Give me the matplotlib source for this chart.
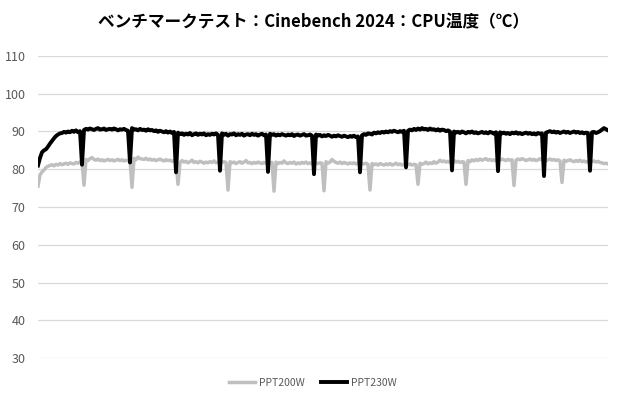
import matplotlib
matplotlib.use("Agg")
import matplotlib.pyplot as plt

plt.rcParams['font.family'] = ['Noto Sans CJK JP', 'DejaVu Sans']

TITLE = "ベンチマークテスト：Cinebench 2024：CPU温度（℃）"
SERIES_NAMES = ["PPT200W", "PPT230W"]
Y_TICKS = [30, 40, 50, 60, 70, 80, 90, 100, 110]

# CPU temperature samples (°C)
ppt200w = [
    75.5, 78.5, 79.3, 79.8, 80.5, 80.8, 81.0, 81.2, 80.9, 81.3, 81.1, 81.5,
    81.2, 81.4, 81.6, 81.3, 81.7, 81.5, 81.4, 81.8, 81.6, 81.9, 82.0,
    75.8,
    82.6, 82.3, 82.8, 83.1, 82.6, 82.4, 82.7, 82.3, 82.5, 82.2, 82.4, 82.6,
    82.3, 82.5, 82.2, 82.4, 82.6, 82.3, 82.5, 82.2, 82.4, 82.3, 82.5,
    75.2,
    82.9, 82.5, 83.2, 82.8, 82.7, 82.6, 82.9, 82.5, 82.7, 82.4, 82.6,
    82.3, 82.5, 82.7, 82.4, 82.2, 82.5, 82.3, 82.4, 82.1, 82.3, 82.2,
    76.0,
    81.8, 82.3, 81.9, 82.1, 81.7, 82.0, 82.4, 81.8, 82.0, 81.7, 82.1, 81.9,
    81.6, 81.9, 81.7, 82.0, 81.8, 82.2, 81.7, 81.9, 81.6, 81.8, 82.0, 81.8,
    74.5,
    82.0, 81.7, 81.9, 81.5, 81.8, 82.0, 81.6, 81.9, 82.3, 81.7, 81.8,
    81.5, 81.8, 81.6, 81.9, 81.7, 81.5, 81.8, 81.6, 81.9, 81.7, 81.8,
    74.2,
    81.9, 81.5, 81.8, 81.6, 82.2, 81.7, 81.5, 81.8, 81.6, 81.9, 81.4, 81.7,
    81.5, 81.8, 81.6, 81.9, 81.5, 81.7, 81.4, 81.8, 81.6, 81.5, 81.7, 81.6,
    74.3,
    82.0, 81.6, 81.9, 82.6, 82.1, 81.8, 81.6, 81.9, 81.5, 81.8, 81.6,
    81.4, 81.7, 81.5, 81.7, 81.4, 81.6, 81.3, 81.5, 81.4, 81.6, 81.3,
    74.5,
    81.5, 81.2, 81.4, 81.1, 81.5, 81.3, 81.1, 81.4, 81.2, 81.5, 81.1, 81.3,
    81.6, 81.2, 81.4, 81.1, 81.3, 81.5, 81.2, 81.4, 81.1, 81.3, 81.2,
    76.0,
    81.6, 81.3, 81.5, 81.9, 81.4, 81.7, 81.5, 82.0, 81.6, 81.9, 82.4, 82.0,
    82.2, 81.9, 82.1, 81.8, 82.0, 82.3, 81.9, 82.1, 81.8, 82.0, 81.9,
    76.0,
    82.3, 82.0, 82.5, 82.2, 82.6, 82.3, 82.7, 82.4, 82.6, 82.8, 82.4, 82.6,
    82.3, 82.5, 82.2, 82.6, 82.4, 82.7, 82.5, 82.3, 82.6, 82.4, 82.5,
    75.7,
    82.4, 82.7, 82.5, 82.8, 82.6, 82.3, 82.5, 82.7, 82.4, 82.6, 82.3, 82.5,
    82.8, 82.4, 82.6, 82.3, 82.5, 82.7, 82.4, 82.6, 82.3, 82.5, 82.2,
    76.5,
    82.4, 82.1, 82.3, 82.5, 82.2, 82.0, 82.3, 82.1, 82.4, 82.0, 82.2, 81.9,
    82.1, 82.3, 82.0, 82.2, 81.9, 82.1, 81.8, 81.7, 81.5, 81.6, 81.4,
]

ppt230w = [
    81.0, 83.0, 84.5, 85.0, 85.3, 86.0, 86.8, 87.5, 88.2, 88.8, 89.2,
    89.5, 89.6, 89.9, 89.7, 90.0, 89.8, 90.2, 89.9, 90.3, 89.8, 90.1,
    81.2,
    90.4, 90.7, 90.5, 90.8, 90.6, 90.4, 90.7, 90.9, 90.5, 90.6, 90.8, 90.4,
    90.6, 90.7, 90.5, 90.8, 90.6, 90.3, 90.6, 90.5, 90.7, 90.4, 90.2,
    81.8,
    90.9, 90.5, 90.6, 90.3, 90.7, 90.4, 90.5, 90.2, 90.6, 90.3, 90.4,
    90.1, 90.3, 89.9, 90.2, 90.0, 89.8, 90.1, 89.7, 90.0, 89.6, 89.9,
    79.2,
    89.7, 89.3, 89.5, 89.1, 89.4, 89.2, 89.6, 89.0, 89.3, 89.5, 89.1,
    89.4, 89.2, 89.5, 89.0, 89.3, 89.1, 89.4, 89.2, 89.5, 89.1,
    79.6,
    89.5, 89.1, 89.4, 88.9, 89.3, 89.2, 89.5, 89.0, 89.3, 89.1, 89.4, 88.9,
    89.2, 89.3, 89.0, 89.4, 89.1, 89.3, 88.9, 89.2, 89.4, 89.0, 89.2,
    79.3,
    89.4, 89.1, 89.3, 88.9, 89.2, 89.0, 89.3, 89.1, 88.9, 89.2, 89.0,
    89.3, 88.8, 89.1, 89.2, 88.9, 89.1, 89.3, 88.9, 89.0, 89.2, 88.9,
    78.7,
    89.2, 88.9, 89.1, 88.7, 89.0, 88.8, 89.1, 88.9, 88.6, 88.9, 88.7,
    89.0, 88.8, 88.6, 88.9, 88.7, 88.5, 88.8, 88.6, 88.9, 88.5, 88.7,
    79.2,
    89.0, 89.3, 89.1, 89.5, 89.4, 89.2, 89.7, 89.5, 89.8, 89.6, 89.9,
    89.7, 90.0, 89.8, 90.1, 89.9, 90.2, 90.0, 89.8, 90.1, 89.9, 90.2,
    80.5,
    90.2, 90.5, 90.3, 90.7, 90.4, 90.8, 90.5, 90.9, 90.6, 90.7, 90.4,
    90.8, 90.5, 90.6, 90.3, 90.6, 90.2, 90.5, 90.4, 90.1, 90.3, 90.0,
    79.7,
    90.0, 89.7, 89.9, 89.6, 90.0, 89.8, 89.5, 89.9, 89.7, 90.0, 89.6,
    89.8, 89.5, 89.7, 89.9, 89.6, 89.8, 89.5, 89.9, 89.7, 89.4, 89.8,
    79.5,
    89.8, 89.5, 89.7, 89.4, 89.6, 89.3, 89.7, 89.5, 89.8, 89.4, 89.6,
    89.3, 89.5, 89.7, 89.4, 89.6, 89.3, 89.5, 89.2, 89.6, 89.4, 89.5,
    78.2,
    89.7, 89.9, 90.1, 89.8, 90.0, 89.7, 89.9, 89.6, 89.8, 90.0, 89.7,
    89.9, 89.6, 89.8, 90.0, 89.7, 89.9, 89.6, 89.8, 89.5, 89.7, 89.6,
    79.6,
    89.8, 89.9, 89.6, 89.8, 90.1, 90.5, 90.9, 90.6, 90.3,
]

x = list(range(len(ppt230w)))

fig = plt.figure(figsize=(6.2, 4.0), dpi=100)
ax = fig.add_axes([38 / 620, 1 - 358 / 400, 570 / 620, 302 / 400])

ax.plot(x, ppt200w, color="#bfbfbf", lw=2.5, solid_joinstyle="round", label=SERIES_NAMES[0])
ax.plot(x, ppt230w, color="#000000", lw=2.8, solid_joinstyle="round", label=SERIES_NAMES[1])

ax.set_xlim(0, len(x) - 1)
ax.set_ylim(30, 110)
ax.set_yticks(Y_TICKS)
ax.set_xticks([])
ax.grid(axis="y", color="#d9d9d9", lw=0.9)
ax.set_axisbelow(True)
for s in ax.spines.values():
    s.set_visible(False)
ax.tick_params(axis="y", length=0, pad=9, labelsize=9, labelcolor="#595959")

fig.text(0.505, 1 - 22 / 400, TITLE, ha="center", va="center",
         fontsize=12, fontweight="bold", color="#000000")

leg = fig.legend(loc="center", bbox_to_anchor=(0.505, 1 - 383 / 400), ncol=2,
                 frameon=False, fontsize=7.5, handlelength=2.5, handletextpad=0.35,
                 columnspacing=1.6)
for t in leg.get_texts():
    t.set_color("#595959")

fig.savefig("out.png", dpi=100)
